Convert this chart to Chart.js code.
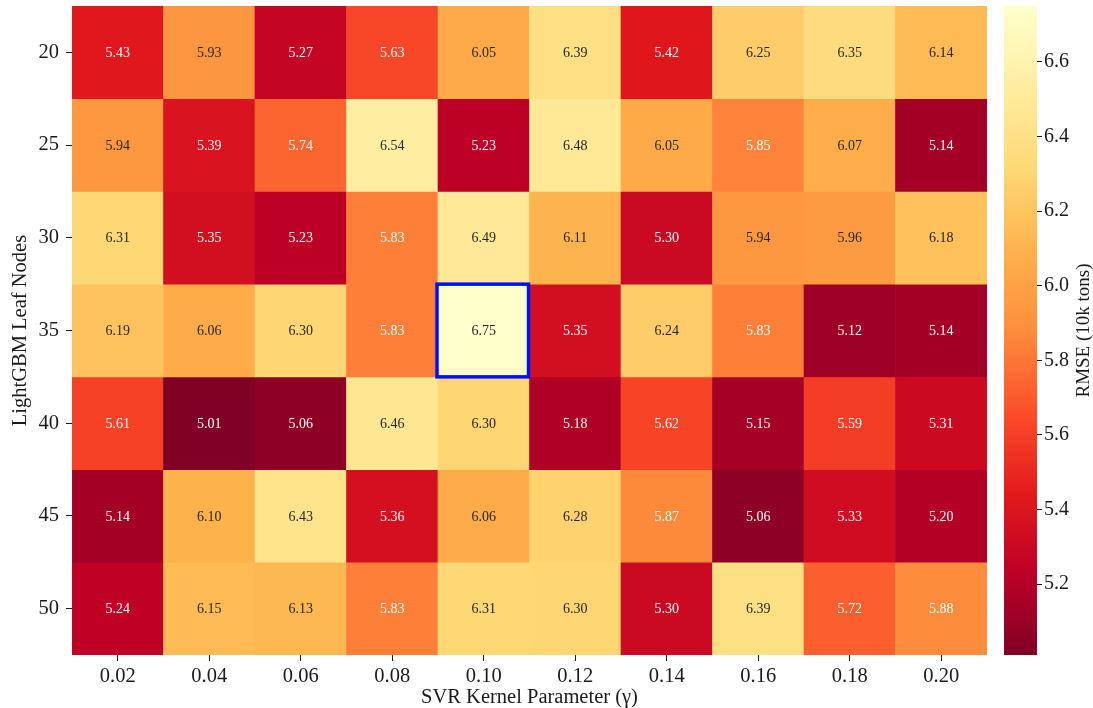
<!DOCTYPE html>
<html>
<head>
<meta charset="utf-8">
<title>RMSE grid: LightGBM leaf nodes vs SVR gamma</title>
<script src="https://cdn.jsdelivr.net/npm/chart.js@4.4.1/dist/chart.umd.min.js"></script>
<style>
  html, body { margin: 0; padding: 0; background: #ffffff; }
  #wrap { position: relative; width: 1093px; height: 708px; overflow: hidden; }
  #heat { position: absolute; left: 0; top: 0; width: 990px; height: 708px; }
  #cbar { position: absolute; left: 990px; top: 0; width: 103px; height: 708px; }
</style>
</head>
<body>
<div id="wrap">
  <canvas id="heat" width="990" height="708"></canvas>
  <canvas id="cbar" width="103" height="708"></canvas>
</div>
<script>
// SVR kernel parameter (columns) and LightGBM leaf-node counts (rows)
const gammaLabels = ['0.02', '0.04', '0.06', '0.08', '0.10', '0.12', '0.14', '0.16', '0.18', '0.20'];
const leafNodes = [20, 25, 30, 35, 40, 45, 50];

// RMSE (10k tons) for each leaf-node row, one value per gamma
const rmse20 = [5.43, 5.93, 5.27, 5.63, 6.05, 6.39, 5.42, 6.25, 6.35, 6.14];
const rmse25 = [5.94, 5.39, 5.74, 6.54, 5.23, 6.48, 6.05, 5.85, 6.07, 5.14];
const rmse30 = [6.31, 5.35, 5.23, 5.83, 6.49, 6.11, 5.30, 5.94, 5.96, 6.18];
const rmse35 = [6.19, 6.06, 6.30, 5.83, 6.75, 5.35, 6.24, 5.83, 5.12, 5.14];
const rmse40 = [5.61, 5.01, 5.06, 6.46, 6.30, 5.18, 5.62, 5.15, 5.59, 5.31];
const rmse45 = [5.14, 6.10, 6.43, 5.36, 6.06, 6.28, 5.87, 5.06, 5.33, 5.20];
const rmse50 = [5.24, 6.15, 6.13, 5.83, 6.31, 6.30, 5.30, 6.39, 5.72, 5.88];
const rmseRows = [rmse20, rmse25, rmse30, rmse35, rmse40, rmse45, rmse50];

// colorbar tick values
const colorbarTicks = [5.2, 5.4, 5.6, 5.8, 6.0, 6.2, 6.4, 6.6];

// cell outlined in blue
const markedRow = 35;
const markedCol = '0.10';

const SERIF = "'Liberation Serif', 'Times New Roman', 'DejaVu Serif', serif";
const INK = '#1a1a1a';
const AXIS_FONT = 20.5;
const CBAR_FONT = 20;
const CBAR_TITLE_FONT = 19;
const CELL_FONT = 14;

const allValues = rmseRows.flat();
const vmin = Math.min(...allValues);
const vmax = Math.max(...allValues);

// YlOrRd, reversed so that low RMSE is dark red
const ylOrRd = ['#ffffcc', '#ffeda0', '#fed976', '#feb24c', '#fd8d3c', '#fc4e2a', '#e31a1c', '#bd0026', '#800026'];
function hexToRgb(h) {
  return [parseInt(h.slice(1, 3), 16), parseInt(h.slice(3, 5), 16), parseInt(h.slice(5, 7), 16)];
}
const ylOrRdRgb = ylOrRd.map(hexToRgb);
function cmapRgb(t) {
  t = Math.max(0, Math.min(1, t));
  const s = (1 - t) * (ylOrRdRgb.length - 1);
  const i = Math.min(Math.floor(s), ylOrRdRgb.length - 2);
  const f = s - i;
  const a = ylOrRdRgb[i], b = ylOrRdRgb[i + 1];
  return [0, 1, 2].map(k => Math.round(a[k] + (b[k] - a[k]) * f));
}
function rgbStr(c) { return 'rgb(' + c[0] + ',' + c[1] + ',' + c[2] + ')'; }
function norm(v) { return (v - vmin) / (vmax - vmin); }
function colorFor(v) { return rgbStr(cmapRgb(norm(v))); }

// dark text on light cells, white text on dark cells
function luminance(c) {
  const lin = c.map(x => {
    x = x / 255;
    return x <= 0.03928 ? x / 12.92 : Math.pow((x + 0.055) / 1.055, 2.4);
  });
  return 0.2126 * lin[0] + 0.7152 * lin[1] + 0.0722 * lin[2];
}
function textColorFor(v) {
  return luminance(cmapRgb(norm(v))) > 0.408 ? '#262626' : '#ffffff';
}

// keep the plot area flush with the layout padding (no room reserved for edge labels)
function noEdgePadding(s) {
  s.paddingTop = 0;
  s.paddingBottom = 0;
  s.paddingLeft = 0;
  s.paddingRight = 0;
}

const cellLabels = {
  id: 'cellLabels',
  afterDatasetsDraw(chart) {
    const { ctx } = chart;
    const xs = chart.scales.x, ys = chart.scales.y;
    ctx.save();
    ctx.font = CELL_FONT + 'px ' + SERIF;
    ctx.textAlign = 'center';
    ctx.textBaseline = 'middle';
    rmseRows.forEach((row, r) => {
      row.forEach((v, c) => {
        ctx.fillStyle = textColorFor(v);
        ctx.fillText(v.toFixed(2), xs.getPixelForValue(c), ys.getPixelForValue(leafNodes[r]) + 1);
      });
    });
    // outline of the marked cell
    const ci = gammaLabels.indexOf(markedCol);
    const half = (xs.getPixelForValue(1) - xs.getPixelForValue(0)) / 2;
    const cx = xs.getPixelForValue(ci);
    const top = ys.getPixelForValue(markedRow - 2.5);
    const bottom = ys.getPixelForValue(markedRow + 2.5);
    ctx.strokeStyle = '#0010ff';
    ctx.lineWidth = 3.5;
    ctx.strokeRect(cx - half - 1, top, 2 * half, bottom - top);
    ctx.restore();
  }
};

const heatDatasets = leafNodes.map((n, r) => ({
  label: String(n),
  data: rmseRows[r].map(() => [n - 2.5, n + 2.5]),
  backgroundColor: rmseRows[r].map(colorFor),
  borderWidth: 0,
  grouped: false,
  barPercentage: 1,
  categoryPercentage: 1
}));

new Chart(document.getElementById('heat'), {
  type: 'bar',
  data: { labels: gammaLabels, datasets: heatDatasets },
  options: {
    responsive: false,
    animation: false,
    events: [],
    layout: { padding: { left: 0, right: 3, top: 6, bottom: 0 } },
    plugins: { legend: { display: false }, tooltip: { enabled: false } },
    scales: {
      x: {
        type: 'category',
        offset: true,
        border: { display: false },
        grid: { display: true, drawOnChartArea: false, offset: false, tickLength: 6, tickColor: INK, tickWidth: 1 },
        ticks: { color: INK, font: { family: SERIF, size: AXIS_FONT }, padding: 3, maxRotation: 0, autoSkip: false },
        title: { display: true, text: 'SVR Kernel Parameter (γ)', color: INK, font: { family: SERIF, size: AXIS_FONT, lineHeight: 1.0 }, padding: { top: 0, bottom: 0 } },
        afterFit(s) { s.height = 53; noEdgePadding(s); }
      },
      y: {
        type: 'linear',
        reverse: true,
        min: 17.5,
        max: 52.5,
        border: { display: false },
        grid: { display: true, drawOnChartArea: false, tickLength: 6, tickColor: INK, tickWidth: 1 },
        ticks: { color: INK, font: { family: SERIF, size: AXIS_FONT }, padding: 7 },
        afterBuildTicks(s) { s.ticks = leafNodes.map(v => ({ value: v })); },
        title: { display: true, text: 'LightGBM Leaf Nodes', color: INK, font: { family: SERIF, size: AXIS_FONT }, padding: { top: 8, bottom: 0 } },
        afterFit(s) { s.width = 72; noEdgePadding(s); }
      }
    }
  },
  plugins: [cellLabels]
});

// colorbar
const cbarTitle = {
  id: 'cbarTitle',
  afterDraw(chart) {
    const { ctx, chartArea } = chart;
    ctx.save();
    ctx.translate(94, (chartArea.top + chartArea.bottom) / 2);
    ctx.rotate(-Math.PI / 2);
    ctx.font = CBAR_TITLE_FONT + 'px ' + SERIF;
    ctx.fillStyle = INK;
    ctx.textAlign = 'center';
    ctx.textBaseline = 'middle';
    ctx.fillText('RMSE (10k tons)', 0, 0);
    ctx.restore();
  }
};

new Chart(document.getElementById('cbar'), {
  type: 'bar',
  data: {
    labels: ['RMSE'],
    datasets: [{
      data: [[vmin, vmax]],
      borderWidth: 0,
      barPercentage: 1,
      categoryPercentage: 1,
      backgroundColor(context) {
        const chart = context.chart;
        if (!chart.chartArea) return 'rgba(0,0,0,0)';
        const ys = chart.scales.y;
        const g = chart.ctx.createLinearGradient(0, ys.getPixelForValue(vmin), 0, ys.getPixelForValue(vmax));
        const steps = 64;
        for (let k = 0; k <= steps; k++) g.addColorStop(k / steps, rgbStr(cmapRgb(k / steps)));
        return g;
      }
    }]
  },
  options: {
    responsive: false,
    animation: false,
    events: [],
    layout: { padding: { left: 14, right: 0, top: 6, bottom: 53 } },
    plugins: { legend: { display: false }, tooltip: { enabled: false } },
    scales: {
      x: { display: false, offset: true },
      y: {
        position: 'right',
        min: vmin,
        max: vmax,
        border: { display: false },
        grid: { display: true, drawOnChartArea: false, tickLength: 5, tickColor: INK },
        ticks: { color: INK, font: { family: SERIF, size: CBAR_FONT }, padding: 2, callback: v => v.toFixed(1) },
        afterBuildTicks(s) { s.ticks = colorbarTicks.map(v => ({ value: v })); },
        afterFit(s) { s.width = 56; noEdgePadding(s); }
      }
    }
  },
  plugins: [cbarTitle]
});
</script>
</body>
</html>
